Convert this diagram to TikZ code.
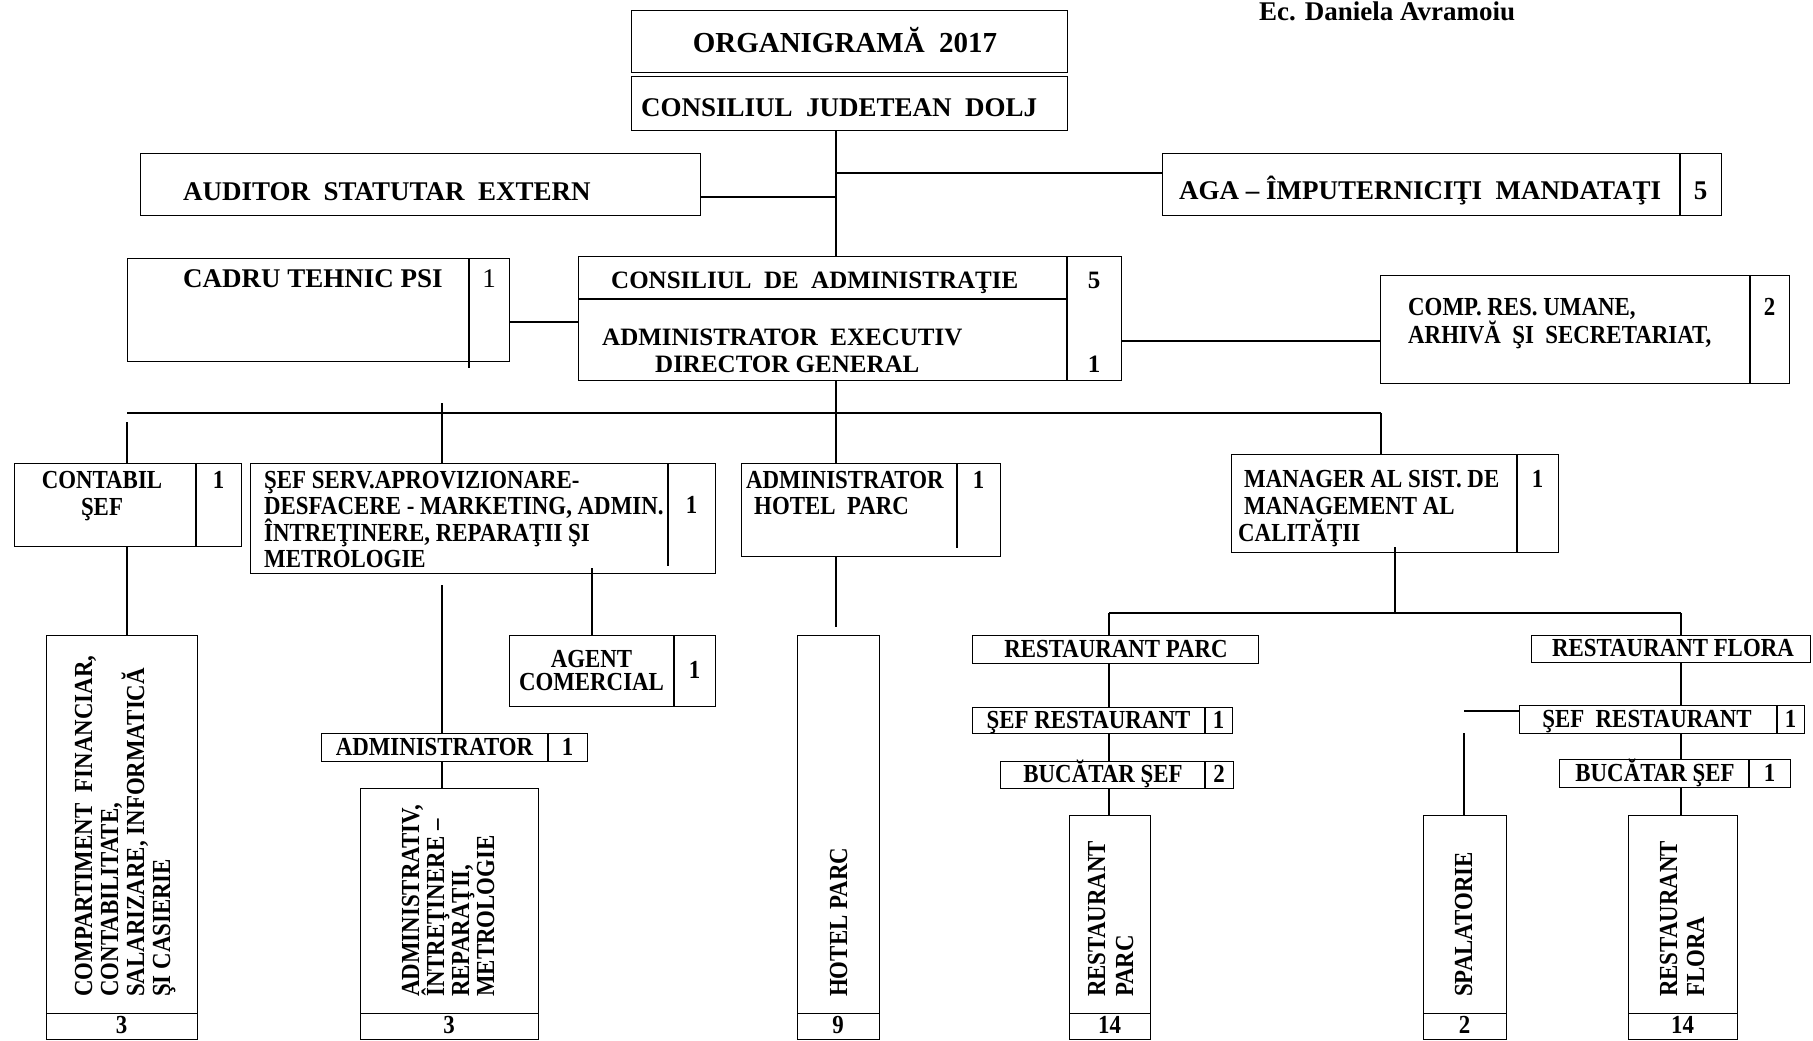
\documentclass[tikz,border=0pt]{standalone}
\usepackage{fontspec}
\setmainfont{Liberation Serif}
\newfontfamily\condf[FakeStretch=0.88]{Liberation Serif}
\usetikzlibrary{calc}
\tikzset{
  box/.style={draw, line width=1.4pt, inner sep=0pt, anchor=north west},
  ln/.style={line width=1.4pt},
  big/.style={font=\fontsize{27}{30}\selectfont\bfseries, inner sep=0pt},
  mid/.style={font=\fontsize{25}{28}\selectfont\bfseries, inner sep=0pt},
  sm/.style={font=\condf\fontsize{26}{29}\selectfont\bfseries, inner sep=0pt},
  rot/.style={font=\condf\fontsize{26}{29}\selectfont\bfseries, inner sep=0pt, rotate=90, anchor=base west},
}
\begin{document}
\begin{tikzpicture}[x=1pt,y=-1pt]
\fill[white] (0,0) rectangle (1813,1041);
\useasboundingbox (0,0) rectangle (1813,1041);

% ---------- boxes ----------
\node[box, minimum width=436, minimum height=62] (org) at (631,10) {};
\node[box, minimum width=436, minimum height=54] (cjd) at (631,76) {};
\node[box, minimum width=560, minimum height=62] (aud) at (140,153) {};
\node[box, minimum width=559, minimum height=62] (aga) at (1162,153) {};
\node[box, minimum width=382, minimum height=103] (cadru) at (127,258) {};
\node[box, minimum width=543, minimum height=124] (cda) at (578,256) {};
\node[box, minimum width=409, minimum height=108] (comp) at (1380,275) {};
\node[box, minimum width=227, minimum height=83] (contabil) at (14,463) {};
\node[box, minimum width=465, minimum height=110] (sefserv) at (250,463) {};
\node[box, minimum width=259, minimum height=93] (hoteladm) at (741,463) {};
\node[box, minimum width=327, minimum height=98] (manager) at (1231,454) {};
\node[box, minimum width=151, minimum height=404] (compart) at (46,635) {};
\node[box, minimum width=206, minimum height=71] (agent) at (509,635) {};
\node[box, minimum width=266, minimum height=28] (admin) at (321,733) {};
\node[box, minimum width=178, minimum height=251] (adminiv) at (360,788) {};
\node[box, minimum width=82, minimum height=404] (hotel) at (797,635) {};
\node[box, minimum width=286, minimum height=28] (rpbox) at (972,635) {};
\node[box, minimum width=260, minimum height=26] (rpsef) at (972,707) {};
\node[box, minimum width=233, minimum height=27] (rpbuc) at (1000,761) {};
\node[box, minimum width=81, minimum height=224] (rpv) at (1069,815) {};
\node[box, minimum width=279, minimum height=27] (rfbox) at (1531,635) {};
\node[box, minimum width=285, minimum height=28] (rfsef) at (1519,705) {};
\node[box, minimum width=231, minimum height=28] (rfbuc) at (1559,759) {};
\node[box, minimum width=83, minimum height=224] (spal) at (1423,815) {};
\node[box, minimum width=109, minimum height=224] (rfv) at (1628,815) {};

% ---------- inner dividers ----------
\draw[ln] ($(aga.north west)+(518,0)$) -- ($(aga.south west)+(518,0)$);
\draw[ln] ($(cadru.north west)+(342,0)$) -- ($(cadru.south west)+(342,6)$);
\draw[ln] ($(cda.north west)+(489,0)$) -- ($(cda.south west)+(489,0)$);
\draw[ln] ($(cda.north west)+(0,43)$) -- ($(cda.north west)+(489,43)$);
\draw[ln] ($(comp.north west)+(370,0)$) -- ($(comp.south west)+(370,0)$);
\draw[ln] ($(contabil.north west)+(182,0)$) -- ($(contabil.south west)+(182,0)$);
\draw[ln] ($(sefserv.north west)+(418,0)$) -- ($(sefserv.south west)+(418,-8)$);
\draw[ln] ($(hoteladm.north west)+(216,0)$) -- ($(hoteladm.south west)+(216,-9)$);
\draw[ln] ($(manager.north west)+(286,0)$) -- ($(manager.south west)+(286,0)$);
\draw[ln] ($(agent.north west)+(165,0)$) -- ($(agent.south west)+(165,0)$);
\draw[ln] ($(admin.north west)+(227,0)$) -- ($(admin.south west)+(227,0)$);
\draw[ln] ($(rpsef.north west)+(233,0)$) -- ($(rpsef.south west)+(233,0)$);
\draw[ln] ($(rpbuc.north west)+(205,0)$) -- ($(rpbuc.south west)+(205,0)$);
\draw[ln] ($(rfsef.north west)+(258,0)$) -- ($(rfsef.south west)+(258,0)$);
\draw[ln] ($(rfbuc.north west)+(190,0)$) -- ($(rfbuc.south west)+(190,0)$);
\foreach \b in {compart,adminiv,hotel,rpv,spal,rfv}
  \draw[ln] ($(\b.south west)+(0,-27)$) -- ($(\b.south east)+(0,-27)$);

% ---------- connectors ----------
\coordinate (j1) at (836,197);
\coordinate (j2) at (836,173);
\coordinate (j3) at (0,322);
\coordinate (j4) at (0,341);
\coordinate (busL) at (127,413);
\coordinate (busR) at (1381,413);
\coordinate (k1) at (127,422);
\coordinate (k2) at (442,403);
\coordinate (k3) at (442,585);
\coordinate (k4) at (592,568);
\coordinate (k5) at (836,627);
\coordinate (k6) at (1395,547);
\coordinate (sbL) at (1109,613);
\coordinate (sbR) at (1681,613);
\coordinate (k7) at (1464,711);
\coordinate (k8) at (1464,733);

\draw[ln] (cjd.south -| j1) -- (cda.north -| j1);
\draw[ln] (aud.east |- j1) -- (j1);
\draw[ln] (j2) -- (aga.west |- j2);
\draw[ln] (cadru.east |- j3) -- (cda.west |- j3);
\draw[ln] (cda.east |- j4) -- (comp.west |- j4);
\draw[ln] (cda.south -| j1) -- (hoteladm.north -| j1);
\draw[ln] (busL) -- (busR);
\draw[ln] (k1) -- (contabil.north -| k1);
\draw[ln] (k2) -- (sefserv.north -| k2);
\draw[ln] (busR) -- (manager.north -| busR);
\draw[ln] (contabil.south -| busL) -- (compart.north -| busL);
\draw[ln] (k3) -- (admin.north -| k3);
\draw[ln] (admin.south -| k3) -- (adminiv.north -| k3);
\draw[ln] (k4) -- (agent.north -| k4);
\draw[ln] (hoteladm.south -| j1) -- (k5);
\draw[ln] (k6) -- (k6 |- sbL);
\draw[ln] (sbL) -- (sbR);
\draw[ln] (sbL) -- (rpbox.north -| sbL);
\draw[ln] (rpbox.south -| sbL) -- (rpsef.north -| sbL);
\draw[ln] (rpsef.south -| sbL) -- (rpbuc.north -| sbL);
\draw[ln] (rpbuc.south -| sbL) -- (rpv.north -| sbL);
\draw[ln] (sbR) -- (rfbox.north -| sbR);
\draw[ln] (rfbox.south -| sbR) -- (rfsef.north -| sbR);
\draw[ln] (rfsef.south -| sbR) -- (rfbuc.north -| sbR);
\draw[ln] (rfbuc.south -| sbR) -- (rfv.north -| sbR);
\draw[ln] (k7) -- (rfsef.west |- k7);
\draw[ln] (k8) -- (spal.north -| k8);

% ---------- texts ----------
\node[big, anchor=base west] (tauthor) at (1259,21) {Ec. Daniela Avramoiu};
\node[font=\fontsize{29}{32}\selectfont\bfseries, inner sep=0pt, anchor=base] (torg) at (845,53) {ORGANIGRAMĂ\ \ 2017};
\node[big, anchor=base west] (tcjd) at (641,117) {CONSILIUL\ \ JUDETEAN\ \ DOLJ};
\node[big, anchor=base west] (taud) at (183,200) {AUDITOR\ \ STATUTAR\ \ EXTERN};
\node[big, anchor=base west] (taga) at (1179,199) {AGA – ÎMPUTERNICIŢI\ \ MANDATAŢI};
\node[big, anchor=base] (naga) at (1700.5,199) {5};
\node[big, anchor=base west] (tcadru) at (183,287) {CADRU TEHNIC PSI};
\node[big, font=\fontsize{27}{30}\selectfont\mdseries, anchor=base] (ncadru) at (489,287) {1};

\node[mid, anchor=base west] (tcda1) at (611,288) {CONSILIUL\ \ DE\ \ ADMINISTRAŢIE};
\node[mid, anchor=base] (ncda1) at (1094,288) {5};
\node[mid, anchor=base west] (tcda2) at (602,345) {ADMINISTRATOR\ \ EXECUTIV};
\node[mid, anchor=base west] (tcda3) at (655,372) {DIRECTOR GENERAL};
\node[mid, anchor=base] (ncda2) at (1094,372) {1};

\node[sm, anchor=base west] (tcomp1) at (1408,315) {COMP. RES. UMANE,};
\node[sm, anchor=base west] (tcomp2) at (1408,343) {ARHIVĂ\ \ ŞI\ \ SECRETARIAT,};
\node[sm, anchor=base] (ncomp) at (1769.5,315) {2};

\node[sm, anchor=base] (tcont1) at (102,488) {CONTABIL};
\node[sm, anchor=base] (tcont2) at (102,515) {ŞEF};
\node[sm, anchor=base] (ncont) at (218.5,488) {1};

\node[sm, anchor=base west] (tsef1) at (264,488) {ŞEF SERV.APROVIZIONARE-};
\node[sm, anchor=base west] (tsef2) at (264,514.5) {DESFACERE - MARKETING, ADMIN.};
\node[sm, anchor=base west] (tsef3) at (264,541) {ÎNTREŢINERE, REPARAŢII ŞI};
\node[sm, anchor=base west] (tsef4) at (264,567) {METROLOGIE};
\node[sm, anchor=base] (nsef) at (691.5,513) {1};

\node[sm, anchor=base west] (thad1) at (746,488) {ADMINISTRATOR};
\node[sm, anchor=base west] (thad2) at (754,514) {HOTEL\ \ PARC};
\node[sm, anchor=base] (nhad) at (978.5,488) {1};

\node[sm, anchor=base west] (tman1) at (1244,487) {MANAGER AL SIST. DE};
\node[sm, anchor=base west] (tman2) at (1244,514) {MANAGEMENT AL};
\node[sm, anchor=base west] (tman3) at (1238,541) {CALITĂŢII};
\node[sm, anchor=base] (nman) at (1537.5,487) {1};

\node[sm, anchor=base] (tag1) at (591.5,667) {AGENT};
\node[sm, anchor=base] (tag2) at (591.5,690) {COMERCIAL};
\node[sm, anchor=base] (nag) at (694.5,678) {1};

\node[sm, anchor=base] (tadm) at (434.5,755) {ADMINISTRATOR};
\node[sm, anchor=base] (nadm) at (567.5,755) {1};

\node[sm, anchor=base] (trp) at (1116,657) {RESTAURANT PARC};
\node[sm, anchor=base] (trps) at (1088.5,728) {ŞEF RESTAURANT};
\node[sm, anchor=base] (nrps) at (1218.5,728) {1};
\node[sm, anchor=base] (trpb) at (1103,782) {BUCĂTAR ŞEF};
\node[sm, anchor=base] (nrpb) at (1219,782) {2};

\node[sm, anchor=base] (trf) at (1673,656) {RESTAURANT FLORA};
\node[sm, anchor=base] (trfs) at (1647,727) {ŞEF\ \ RESTAURANT};
\node[sm, anchor=base] (nrfs) at (1790.5,727) {1};
\node[sm, anchor=base] (trfb) at (1655,781) {BUCĂTAR ŞEF};
\node[sm, anchor=base] (nrfb) at (1769.5,781) {1};

% rotated texts
\node[rot] (rc1) at (92,997) {COMPARTIMENT\ \ FINANCIAR,};
\node[rot] (rc2) at (118,997) {CONTABILITATE,};
\node[rot] (rc3) at (144,997) {SALARIZARE, INFORMATICĂ};
\node[rot] (rc4) at (170,997) {ŞI CASIERIE};
\node[rot] (ra1) at (419,997) {ADMINISTRATIV,};
\node[rot] (ra2) at (444,997) {ÎNTREŢINERE –};
\node[rot] (ra3) at (469,997) {REPARAŢII,};
\node[rot] (ra4) at (494,997) {METROLOGIE};
\node[rot] (rh) at (847,997) {HOTEL PARC};
\node[rot] (rr1) at (1105,997) {RESTAURANT};
\node[rot] (rr2) at (1133,997) {PARC};
\node[rot] (rs) at (1472,997) {SPALATORIE};
\node[rot] (rf1) at (1677,997) {RESTAURANT};
\node[rot] (rf2) at (1704,997) {FLORA};

% bottom numbers
\node[sm, anchor=base] (n1) at (121.5,1033) {3};
\node[sm, anchor=base] (n2) at (449,1033) {3};
\node[sm, anchor=base] (n3) at (838,1033) {9};
\node[sm, anchor=base] (n4) at (1109.5,1033) {14};
\node[sm, anchor=base] (n5) at (1464.5,1033) {2};
\node[sm, anchor=base] (n6) at (1682.5,1033) {14};
\end{tikzpicture}
\end{document}
